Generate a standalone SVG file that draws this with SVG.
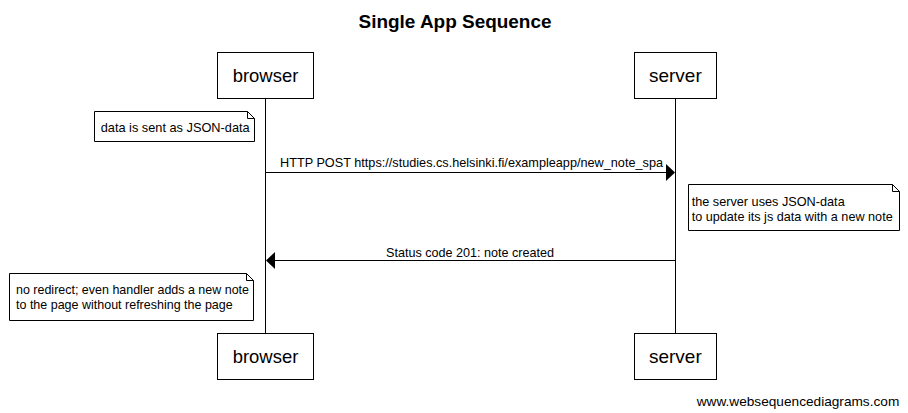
<svg xmlns="http://www.w3.org/2000/svg" width="908" height="413" viewBox="0 0 908 413">
<style>
text{font-family:"Liberation Sans",Arial,sans-serif;fill:#000}
.title{font-size:18.5px;font-weight:bold}
.actor rect{fill:#fff;stroke:#000;stroke-width:1}
.actor text{font-size:18.5px}
.note path{fill:#fff;stroke:#000;stroke-width:1}
.note text{font-size:12.6px}
.msg{font-size:12.6px}
.life{stroke:#000;stroke-width:1}
.arrow{stroke:#000;stroke-width:1;fill:none}
.head{fill:#000}
.wm{font-size:12.6px}
</style>
<rect width="908" height="413" fill="#fff"/>
<text class="title" x="358.5" y="28" textLength="193" lengthAdjust="spacingAndGlyphs">Single App Sequence</text>
<g id="lifelines">
<line class="life" x1="265.5" y1="98" x2="265.5" y2="333"/>
<line class="life" x1="675.5" y1="98" x2="675.5" y2="333"/>
</g>
<g id="browser-top" class="actor"><rect x="217.5" y="52.5" width="96" height="46"/><text x="232.7" y="82" textLength="65.6" lengthAdjust="spacingAndGlyphs">browser</text></g>
<g id="server-top" class="actor"><rect x="634.5" y="52.5" width="82" height="46"/><text x="649" y="82" textLength="52.7" lengthAdjust="spacingAndGlyphs">server</text></g>
<g id="browser-bottom" class="actor"><rect x="217.5" y="333.5" width="96" height="46"/><text x="232.7" y="363" textLength="65.6" lengthAdjust="spacingAndGlyphs">browser</text></g>
<g id="server-bottom" class="actor"><rect x="634.5" y="333.5" width="82" height="46"/><text x="649" y="363" textLength="52.7" lengthAdjust="spacingAndGlyphs">server</text></g>
<g id="note1" class="note">
<path d="M94.5,111.5 H247.5 L254.5,118.5 V141.5 H94.5 Z M247.5,111.5 V118.5 H254.5"/>
<text x="100.7" y="132" textLength="149" lengthAdjust="spacingAndGlyphs">data is sent as JSON-data</text>
</g>
<g id="note2" class="note">
<path d="M688.5,184.5 H892.5 L899.5,191.5 V230.5 H688.5 Z M892.5,184.5 V191.5 H899.5"/>
<text x="691.7" y="206" textLength="153" lengthAdjust="spacingAndGlyphs">the server uses JSON-data</text>
<text x="691.7" y="221" textLength="201" lengthAdjust="spacingAndGlyphs">to update its js data with a new note</text>
</g>
<g id="note3" class="note">
<path d="M9.5,273.5 H246.5 L253.5,280.5 V320.5 H9.5 Z M246.5,273.5 V280.5 H253.5"/>
<text x="16" y="294" textLength="233" lengthAdjust="spacingAndGlyphs">no redirect; even handler adds a new note</text>
<text x="16" y="309" textLength="216.7" lengthAdjust="spacingAndGlyphs">to the page without refreshing the page</text>
</g>
<g id="connectors">
<line class="arrow" x1="265.5" y1="172.5" x2="667" y2="172.5"/>
<polygon class="head" points="666,164 675,172.5 666,181"/>
<text class="msg" x="280" y="167" textLength="383" lengthAdjust="spacingAndGlyphs">HTTP POST https://studies.cs.helsinki.fi/exampleapp/new_note_spa</text>
<line class="arrow" x1="675.5" y1="260.5" x2="274" y2="260.5"/>
<polygon class="head" points="275,252 266,260.5 275,269"/>
<text class="msg" x="386" y="256.5" textLength="168" lengthAdjust="spacingAndGlyphs">Status code 201: note created</text>
</g>
<text class="wm" x="696.7" y="406" textLength="202.6" lengthAdjust="spacingAndGlyphs">www.websequencediagrams.com</text>
</svg>
